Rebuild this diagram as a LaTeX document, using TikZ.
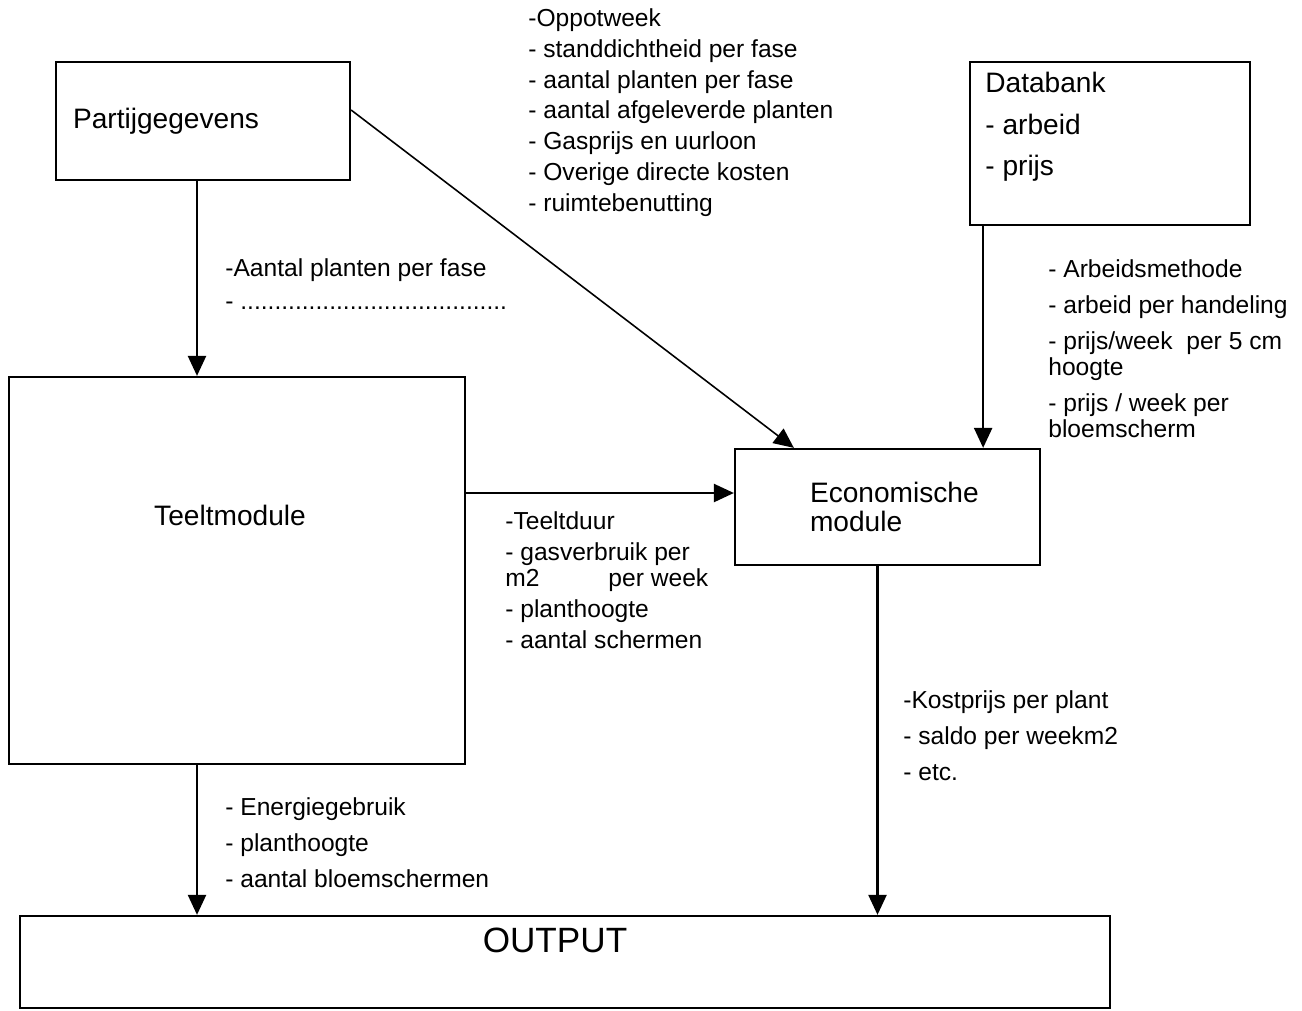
\documentclass[tikz,border=0pt]{standalone}
\usepackage{fontspec}
\setmainfont{Liberation Sans}
\usetikzlibrary{arrows.meta,positioning}

\begin{document}
\begin{tikzpicture}[x=0.02cm,y=-0.02cm,
    >={Triangle[length=0.4cm,width=0.36cm]},
    box/.style={draw,line width=1.3pt,inner sep=0pt},
    flow/.style={->,line width=1.3pt},
    lst/.style={anchor=north west,align=left,inner sep=0pt,font=\fontsize{14}{17.6}\selectfont},
    big/.style={inner sep=0pt,font=\fontsize{16}{16}\selectfont}]
    \useasboundingbox (0,0) rectangle (1302,1011);
    % boxes
    \node[box,big,minimum width=5.88cm,minimum height=2.36cm,text width=5.2cm,align=left] (partij) at (203,121) {Partijgegevens};
    \node[box,minimum width=5.6cm,minimum height=3.26cm] (bank) at (1110,143.5) {};
    \node[big,anchor=north west,align=left,font=\fontsize{16}{23.6}\selectfont] (banktxt) at (985,72) {Databank\\- arbeid\\- prijs};
    \node[box,minimum width=9.12cm,minimum height=7.74cm] (teelt) at (237,570.5) {};
    \node[big] (teelttxt) at (230,515) {Teeltmodule};
    \node[box,big,minimum width=6.1cm,minimum height=2.32cm,inner xsep=1.5cm,text width=3.1cm,align=left] (econ) at (887.5,507) {Economische\\module};
    \node[box,minimum width=21.8cm,minimum height=1.84cm] (output) at (565,962) {};
    \node[inner sep=0pt,font=\fontsize{20}{20}\selectfont] (outtxt) at (555,940) {OUTPUT};
    % arrows
    \coordinate (partijout) at ([xshift=-0.12cm]partij.south);
    \coordinate (econtop) at ([xshift=1.2cm]econ.north west);
    \coordinate (econin) at ([xshift=-1.16cm]econ.north east);
    \coordinate (econleft) at ([yshift=0.28cm]econ.west);
    \coordinate (teeltout) at ([xshift=-0.8cm]teelt.south);
    \coordinate (econout) at ([xshift=-0.2cm]econ.south);
    \draw[flow] (partijout) -- (partijout |- teelt.north);
    \draw[->,line width=0.9pt] ([yshift=0.22cm]partij.east) -- (econtop);
    \draw[flow] (econin |- bank.south) -- (econin);
    \draw[flow] (teelt.east |- econleft) -- (econleft);
    \draw[flow] (teeltout) -- (teeltout |- output.north);
    \draw[flow] (econout) -- (econout |- output.north);
    % lists
    \node[lst] (invoer) at (528,8) {-Oppotweek\\- standdichtheid per fase\\- aantal planten per fase\\- aantal afgeleverde planten\\- Gasprijs en uurloon\\- Overige directe kosten\\- ruimtebenutting};
    \node[lst,font=\fontsize{14}{18.8}\selectfont] (aantal) at (225,258) {-Aantal planten per fase\\- .......................................};
    \node[lst,font=\fontsize{14}{14.8}\selectfont] (arbeid) at (1048,259) {- Arbeidsmethode\\[0.2cm]- arbeid per handeling\\[0.2cm]- prijs/week\ \ per 5 cm\\hoogte\\[0.2cm]- prijs / week per\\bloemscherm};
    \node[lst,font=\fontsize{14}{14.8}\selectfont] (teeltduur) at (505,511) {-Teeltduur\\[0.1cm]- gasverbruik per\\m2\hspace{1.38cm}per week\\[0.1cm]- planthoogte\\[0.1cm]- aantal schermen};
    \node[lst,font=\fontsize{14}{20.5}\selectfont] (kostprijs) at (903,690) {-Kostprijs per plant\\- saldo per weekm2\\- etc.};
    \node[lst,font=\fontsize{14}{20.5}\selectfont] (energie) at (225,797) {- Energiegebruik\\- planthoogte\\- aantal bloemschermen};
\end{tikzpicture}
\end{document}
